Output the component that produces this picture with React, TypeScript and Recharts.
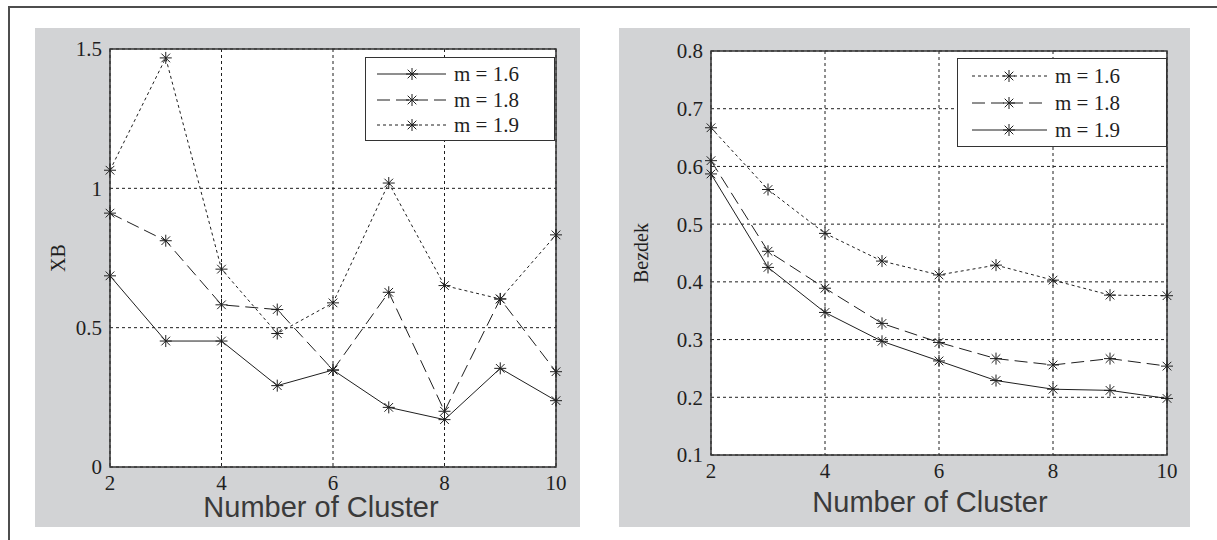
import React from "react";
import {
  LineChart,
  Line,
  XAxis,
  YAxis,
  CartesianGrid,
  Legend,
  ReferenceArea,
  Label,
} from "recharts";

// values
const clusters = [2, 3, 4, 5, 6, 7, 8, 9, 10];

const xbM16 = [0.686, 0.452, 0.452, 0.292, 0.348, 0.214, 0.17, 0.354, 0.238];
const xbM18 = [0.911, 0.812, 0.582, 0.565, 0.348, 0.627, 0.2, 0.603, 0.342];
const xbM19 = [1.065, 1.468, 0.71, 0.479, 0.589, 1.019, 0.651, 0.603, 0.833];

const bzM16 = [0.667, 0.56, 0.484, 0.436, 0.412, 0.429, 0.403, 0.377, 0.376];
const bzM18 = [0.61, 0.453, 0.389, 0.328, 0.295, 0.267, 0.256, 0.267, 0.254];
const bzM19 = [0.587, 0.425, 0.347, 0.297, 0.263, 0.229, 0.214, 0.212, 0.198];

const xTicks = [2, 4, 6, 8, 10];
const xbTicks = [0, 0.5, 1, 1.5];
const bzTicks = [0.1, 0.2, 0.3, 0.4, 0.5, 0.6, 0.7, 0.8];

const seriesNames = ["m = 1.6", "m = 1.8", "m = 1.9"];

const INK = "#1f1f1f";
const PANEL_BG = "#d2d3d5";
const SERIF = '"Liberation Serif", "Times New Roman", serif';
const SANS = '"Liberation Sans", Arial, sans-serif';

const SOLID = undefined;
const DASHED = "13 6";
const DOTTED = "3 3";

const xbData = clusters.map((k, i) => ({ k, m16: xbM16[i], m18: xbM18[i], m19: xbM19[i] }));
const bzData = clusters.map((k, i) => ({ k, m16: bzM16[i], m18: bzM18[i], m19: bzM19[i] }));

const Asterisk = (props: any) => {
  const { cx, cy, index } = props;
  if (cx == null || cy == null) return <g key={index} />;
  const r = 6;
  const d = r * 0.72;
  return (
    <g key={index} stroke={INK} strokeWidth={1} fill="none">
      <line x1={cx} y1={cy - r} x2={cx} y2={cy + r} />
      <line x1={cx - r} y1={cy} x2={cx + r} y2={cy} />
      <line x1={cx - d} y1={cy - d} x2={cx + d} y2={cy + d} />
      <line x1={cx - d} y1={cy + d} x2={cx + d} y2={cy - d} />
    </g>
  );
};

type PanelProps = {
  left: number;
  top: number;
  width: number;
  height: number;
  data: any[];
  yDomain: [number, number];
  yTicks: number[];
  yLabel: string;
  yLabelGap: number;
  xLabelDy: number;
  xLabelDx: number;
  dashes: Record<string, string | undefined>;
  margin: { top: number; right: number; bottom: number; left: number };
  legendBox: { left: number; top: number; width: number; height: number };
  legendRows: number[];
  legendLine: [number, number, number];
};

function Panel(p: PanelProps) {
  const renderLegend = (props: any) => {
    const items = props.payload || [];
    const { width, height } = p.legendBox;
    return (
      <div
        style={{
          width,
          height,
          boxSizing: "border-box",
          border: `1.5px solid #333`,
          background: "#fff",
        }}
      >
        <svg width={width - 3} height={height - 3} style={{ display: "block" }}>
          {items.map((entry: any, i: number) => {
            const y = p.legendRows[i];
            const [x1, x2, xm] = p.legendLine;
            return (
              <g key={entry.value}>
                <line
                  x1={x1}
                  x2={x2}
                  y1={y}
                  y2={y}
                  stroke={INK}
                  strokeWidth={1}
                  strokeDasharray={p.dashes[entry.value]}
                />
                <Asterisk cx={xm} cy={y} index={i} />
                <text
                  x={x2 + 8}
                  y={y}
                  dy="0.34em"
                  fontFamily={SERIF}
                  fontSize={21}
                  fill={INK}
                >
                  {entry.value}
                </text>
              </g>
            );
          })}
        </svg>
      </div>
    );
  };

  const renderXLabel = (props: any) => {
    const vb = props.viewBox;
    return (
      <text
        x={vb.x + vb.width / 2 + p.xLabelDx}
        y={vb.y + p.xLabelDy}
        textAnchor="middle"
        fontFamily={SANS}
        fontSize={29}
        fill="#3a3a3a"
      >
        Number of Cluster
      </text>
    );
  };

  const renderYLabel = (props: any) => {
    const vb = props.viewBox;
    const cx = vb.x + vb.width - p.yLabelGap;
    const cy = vb.y + vb.height / 2;
    return (
      <text
        x={cx}
        y={cy}
        transform={`rotate(-90 ${cx} ${cy})`}
        textAnchor="middle"
        dy="0.34em"
        fontFamily={SERIF}
        fontSize={20}
        fill={INK}
      >
        {p.yLabel}
      </text>
    );
  };

  const keys = ["m16", "m18", "m19"];

  return (
    <div
      style={{
        position: "absolute",
        left: p.left,
        top: p.top,
        width: p.width,
        height: p.height,
        background: PANEL_BG,
      }}
    >
      <LineChart width={p.width} height={p.height} data={p.data} margin={p.margin}>
        <CartesianGrid
          stroke={INK}
          strokeDasharray="3 3"
          fill="#fff"
          fillOpacity={1}
        />
        <XAxis
          dataKey="k"
          type="number"
          domain={[2, 10]}
          ticks={xTicks}
          interval={0}
          axisLine={false}
          tickLine={false}
          height={40}
          tick={{ fontFamily: SERIF, fontSize: 21, fill: INK }}
        >
          <Label content={renderXLabel} />
        </XAxis>
        <YAxis
          type="number"
          domain={p.yDomain}
          ticks={p.yTicks}
          interval={0}
          axisLine={false}
          tickLine={false}
          width={60}
          tick={{ fontFamily: SERIF, fontSize: 21, fill: INK }}
        >
          <Label content={renderYLabel} />
        </YAxis>
        {keys.map((key, i) => (
          <Line
            key={key}
            dataKey={key}
            name={seriesNames[i]}
            type="linear"
            stroke={INK}
            strokeWidth={1}
            strokeDasharray={p.dashes[seriesNames[i]]}
            dot={Asterisk}
            activeDot={false}
            isAnimationActive={false}
          />
        ))}
        <ReferenceArea
          x1={2}
          x2={10}
          y1={p.yDomain[0]}
          y2={p.yDomain[1]}
          fill="none"
          stroke="#333"
          strokeWidth={1.5}
        />
        <Legend
          layout="vertical"
          align="center"
          verticalAlign="middle"
          wrapperStyle={{ ...p.legendBox }}
          content={renderLegend}
        />
      </LineChart>
    </div>
  );
}

export default function App() {
  return (
    <div
      style={{
        position: "absolute",
        left: 0,
        top: 0,
        width: 1217,
        height: 540,
        background: "#fff",
        overflow: "hidden",
      }}
    >
      <div
        style={{
          position: "absolute",
          left: 8,
          top: 6,
          width: 1230,
          height: 560,
          borderTop: "2px solid #4d4d4d",
          borderLeft: "2px solid #4d4d4d",
        }}
      />
      <Panel
        left={35}
        top={28}
        width={545}
        height={499}
        data={xbData}
        yDomain={[0, 1.5]}
        yTicks={xbTicks}
        yLabel="XB"
        yLabelGap={52}
        xLabelDy={50}
        xLabelDx={-12}
        dashes={{ "m = 1.6": SOLID, "m = 1.8": DASHED, "m = 1.9": DOTTED }}
        margin={{ top: 21, right: 24, bottom: 20, left: 15 }}
        legendBox={{ left: 330, top: 29, width: 190, height: 84 }}
        legendRows={[16, 42, 67]}
        legendLine={[11, 80, 46]}
      />
      <Panel
        left={619}
        top={28}
        width={571}
        height={499}
        data={bzData}
        yDomain={[0.1, 0.8]}
        yTicks={bzTicks}
        yLabel="Bezdek"
        yLabelGap={70}
        xLabelDy={57}
        xLabelDx={-9}
        dashes={{ "m = 1.6": DOTTED, "m = 1.8": DASHED, "m = 1.9": SOLID }}
        margin={{ top: 23, right: 23, bottom: 32, left: 32 }}
        legendBox={{ left: 338, top: 30, width: 210, height: 89 }}
        legendRows={[17, 44, 71]}
        legendLine={[14, 89, 51]}
      />
    </div>
  );
}
